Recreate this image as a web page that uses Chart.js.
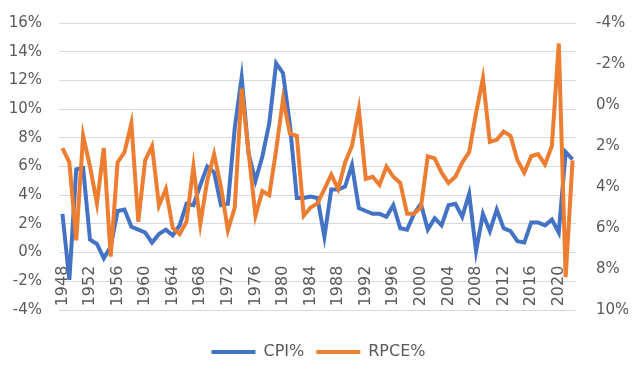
<!DOCTYPE html>
<html>
<head>
<meta charset="utf-8">
<script src="https://cdn.jsdelivr.net/npm/chart.js@4/dist/chart.umd.min.js"></script>
<style>
  body { margin: 0; background: #fff; }
</style>
</head>
<body>
<canvas id="myChart" width="640" height="370"></canvas>
<script>
var ctx = document.querySelector('#myChart');

// one point per year
const years = [
  1948, 1949, 1950, 1951, 1952, 1953, 1954, 1955, 1956, 1957,
  1958, 1959, 1960, 1961, 1962, 1963, 1964, 1965, 1966, 1967,
  1968, 1969, 1970, 1971, 1972, 1973, 1974, 1975, 1976, 1977,
  1978, 1979, 1980, 1981, 1982, 1983, 1984, 1985, 1986, 1987,
  1988, 1989, 1990, 1991, 1992, 1993, 1994, 1995, 1996, 1997,
  1998, 1999, 2000, 2001, 2002, 2003, 2004, 2005, 2006, 2007,
  2008, 2009, 2010, 2011, 2012, 2013, 2014, 2015, 2016, 2017,
  2018, 2019, 2020, 2021, 2022
];

// only these years get a label on the category axis
const tickYears = [1948, 1952, 1956, 1960, 1964, 1968, 1972, 1976, 1980, 1984,
  1988, 1992, 1996, 2000, 2004, 2008, 2012, 2016, 2020];

// CPI % (left axis)
const cpiValues = [
  2.7, -1.9, 5.8, 5.9, 0.9, 0.6, -0.4, 0.4, 2.9, 3.0,
  1.8, 1.6, 1.4, 0.7, 1.3, 1.6, 1.2, 1.9, 3.4, 3.3,
  4.7, 6.0, 5.6, 3.3, 3.4, 8.7, 12.2, 6.9, 5.0, 6.7,
  9.0, 13.2, 12.5, 8.9, 3.8, 3.8, 3.9, 3.8, 1.1, 4.4,
  4.4, 4.6, 6.1, 3.1, 2.9, 2.7, 2.7, 2.5, 3.3, 1.7,
  1.6, 2.7, 3.4, 1.6, 2.4, 1.9, 3.3, 3.4, 2.5, 4.1,
  0.1, 2.7, 1.5, 3.0, 1.7, 1.5, 0.8, 0.7, 2.1, 2.1,
  1.9, 2.3, 1.4, 7.0, 6.5
];

// real PCE growth % (right axis, reversed)
const rpceValues = [
  2.1, 2.8, 6.6, 1.5, 3.0, 4.8, 2.1, 7.4, 2.8, 2.3,
  0.9, 5.7, 2.7, 2.0, 4.9, 4.1, 6.0, 6.3, 5.7, 3.0,
  5.8, 3.7, 2.4, 4.0, 6.1, 5.0, -0.8, 2.3, 5.4, 4.2,
  4.4, 2.2, -0.3, 1.4, 1.5, 5.4, 5.0, 4.8, 4.1, 3.4,
  4.1, 2.8, 2.0, 0.2, 3.6, 3.5, 3.9, 3.0, 3.5, 3.8,
  5.3, 5.3, 5.0, 2.5, 2.6, 3.3, 3.8, 3.5, 2.8, 2.3,
  0.4, -1.3, 1.8, 1.7, 1.3, 1.5, 2.7, 3.3, 2.5, 2.4,
  2.9, 2.0, -3.0, 8.4, 2.7
];

const LEFT_MIN = -4, LEFT_MAX = 16;
const RIGHT_MIN = -4, RIGHT_MAX = 10;
const STEP = 2;

const COLOR_CPI = '#4472C4';
const COLOR_RPCE = '#ED7D31';
const COLOR_TEXT = '#595959';
const COLOR_GRID = '#d9d9d9';
const LINE_WIDTH = 4;
const TICK_FONT = { family: 'DejaVu Sans', size: 15 };

function percent(v) {
  return v + '%';
}

function legendLabels(chart) {
  const items = Chart.defaults.plugins.legend.labels.generateLabels(chart);
  items.forEach(item => {
    item.fillStyle = item.strokeStyle;
    item.lineWidth = 0;
  });
  return items;
}

// fixed axis width, and no extra room above/below the plot for the labels
function fixAxis(width) {
  return function(scale) {
    scale.width = width;
    scale.paddingTop = 0;
    scale.paddingBottom = 0;
  };
}

var chart = new Chart(ctx, {
  type: 'line',
  data: {
    labels: years,
    datasets: [
      {
        label: 'CPI%',
        data: cpiValues,
        yAxisID: 'y',
        borderColor: COLOR_CPI,
        backgroundColor: COLOR_CPI,
        borderWidth: LINE_WIDTH,
        pointRadius: 0,
        tension: 0,
        order: 1
      },
      {
        label: 'RPCE%',
        data: rpceValues,
        yAxisID: 'y1',
        borderColor: COLOR_RPCE,
        backgroundColor: COLOR_RPCE,
        borderWidth: LINE_WIDTH,
        pointRadius: 0,
        tension: 0,
        order: 0
      }
    ]
  },
  options: {
    responsive: false,
    animation: false,
    layout: {
      padding: { left: 9, right: 12, top: 23, bottom: 0 }
    },
    plugins: {
      tooltip: { enabled: false },
      legend: {
        position: 'bottom',
        labels: {
          boxWidth: 44,
          boxHeight: 4,
          padding: 12,
          color: COLOR_TEXT,
          font: { family: 'DejaVu Sans', size: 16 },
          generateLabels: legendLabels,
          sort: (a, b) => a.datasetIndex - b.datasetIndex
        }
      }
    },
    scales: {
      x: {
        type: 'category',
        offset: true,
        position: { y: 0 },
        grid: { display: false, drawTicks: false },
        border: { display: false },
        ticks: {
          autoSkip: false,
          minRotation: 90,
          maxRotation: 90,
          padding: 13,
          color: COLOR_TEXT,
          font: { family: 'DejaVu Sans', size: 16 },
          callback: function(value, index) {
            const yr = years[index];
            return tickYears.includes(yr) ? String(yr) : null;
          }
        }
      },
      // empty axis that only keeps a gap between plot and legend
      xGap: {
        type: 'category',
        position: 'bottom',
        grid: { display: false },
        border: { display: false },
        ticks: { display: false },
        afterFit: function(scale) {
          scale.height = 22;
        }
      },
      y: {
        position: 'left',
        min: LEFT_MIN,
        max: LEFT_MAX,
        grid: { color: COLOR_GRID, lineWidth: 1, drawTicks: false },
        border: { display: false },
        ticks: {
          stepSize: STEP,
          padding: 17,
          color: COLOR_TEXT,
          font: TICK_FONT,
          callback: percent
        },
        afterFit: fixAxis(50)
      },
      y1: {
        position: 'right',
        min: RIGHT_MIN,
        max: RIGHT_MAX,
        reverse: true,
        grid: { drawOnChartArea: false, drawTicks: false },
        border: { display: false },
        ticks: {
          stepSize: STEP,
          padding: 20,
          color: COLOR_TEXT,
          font: TICK_FONT,
          callback: percent
        },
        afterFit: fixAxis(52)
      }
    }
  }
});
</script>
</body>
</html>
